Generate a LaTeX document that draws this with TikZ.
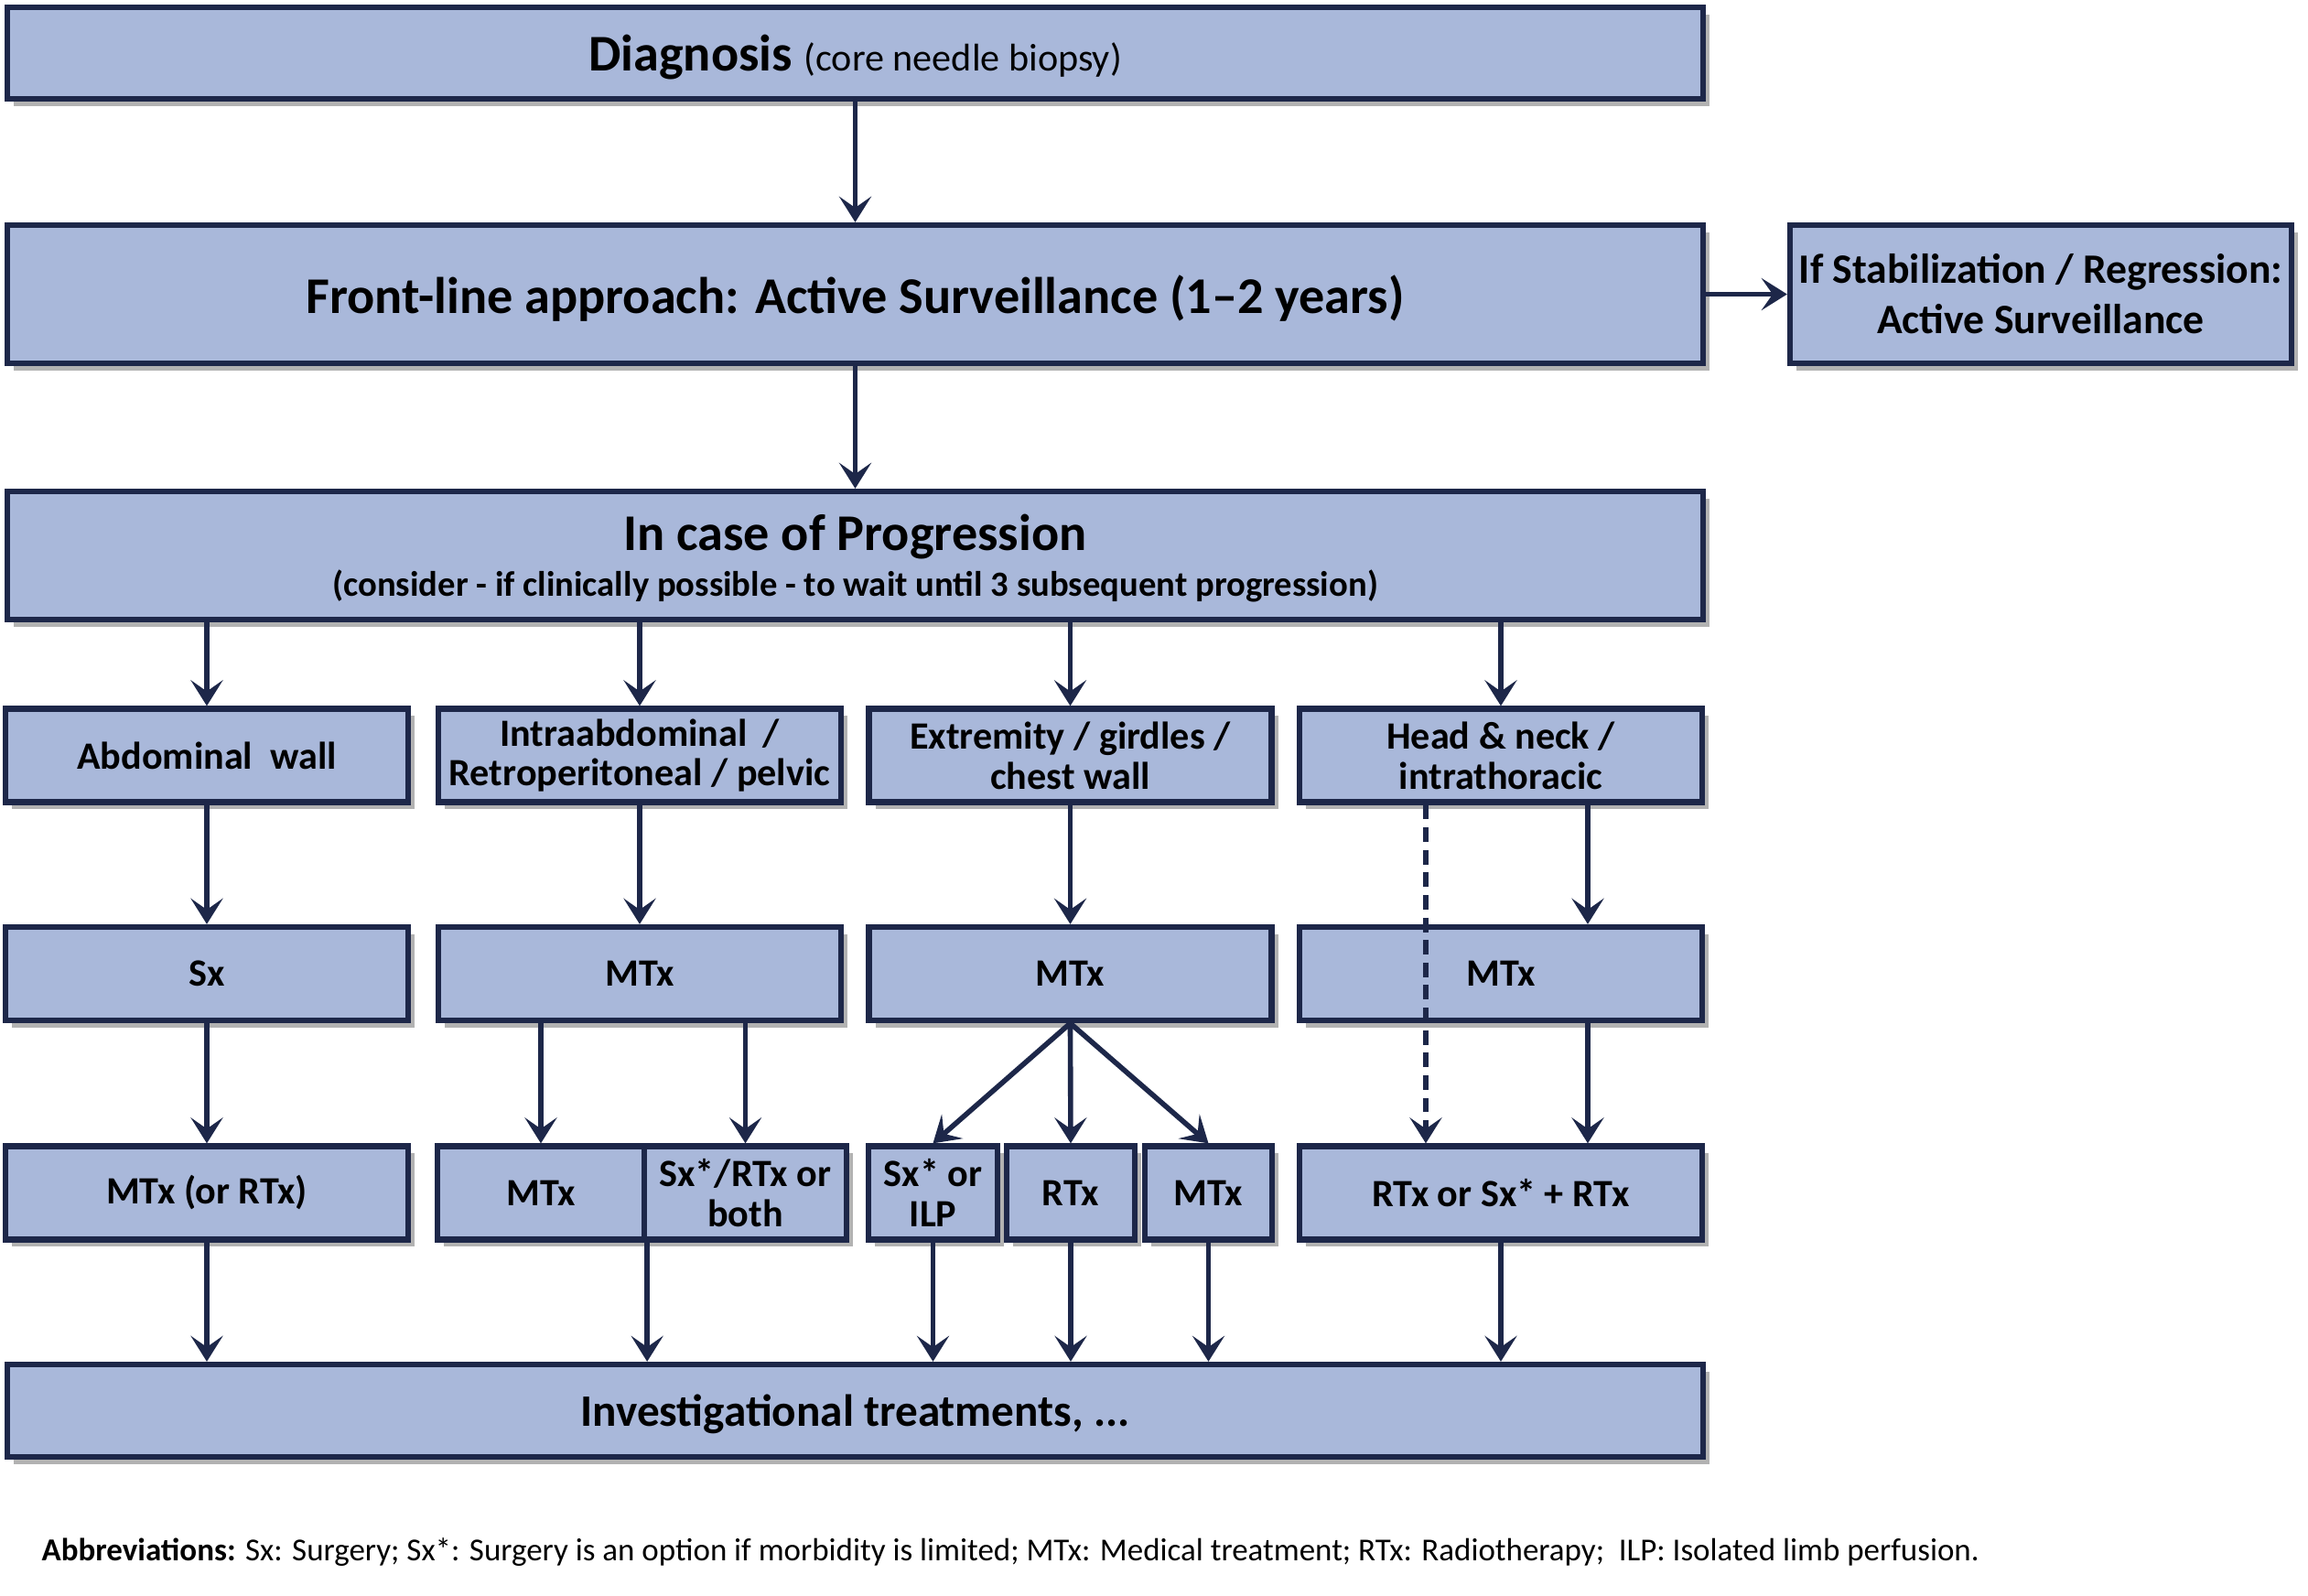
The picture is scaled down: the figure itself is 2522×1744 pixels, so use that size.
\documentclass[tikz,border=0pt]{standalone}
\usepackage{fontspec}
\setmainfont{Carlito}
\usetikzlibrary{arrows.meta,shadows}
\definecolor{boxfill}{HTML}{A9B8DA}
\definecolor{boxline}{HTML}{1D2749}
\tikzset{
  box/.style={draw=boxline, line width=1.8pt, fill=boxfill, inner sep=0pt, align=center,
    drop shadow={shadow xshift=2pt, shadow yshift=-2.2pt, opacity=0.3, fill=black},
    font=\fontsize{12}{12.5}\selectfont\bfseries},
  rowbox/.style={box, minimum width=44mm, minimum height=10.2mm},
  arr/.style={draw=boxline, line width=1.6pt, -{Stealth[length=8pt,width=10pt,inset=3.5pt]}},
  dsh/.style={arr, line width=1.8pt, dash pattern=on 4.5pt off 2.5pt},
}
\begin{document}
\begin{tikzpicture}[x=0.1mm,y=-0.1mm]
\useasboundingbox (0,0) rectangle (2522,1744);
% top boxes
\node[box, minimum width=185.3mm, minimum height=10mm, text depth=0pt, font=\fontsize{16}{18}\selectfont\bfseries] (diag) at (934.5,58)
  {Diagnosis {\fontsize{12}{14}\mdseries\selectfont (core needle biopsy)}};
\node[box, minimum width=185.3mm, minimum height=15.1mm, text depth=0pt, font=\fontsize{16}{18}\selectfont\bfseries] (front) at (934.5,321.5)
  {Front-line approach: Active Surveillance (1–2 years)};
\node[box, minimum width=54.8mm, minimum height=15.1mm, font=\fontsize{13}{15.6}\selectfont\bfseries] (stab) at (2230,321.5)
  {If Stabilization / Regression:\\Active Surveillance};
\node[box, minimum width=185.3mm, minimum height=14mm, text depth=0pt, font=\fontsize{11}{14.3}\selectfont\bfseries] (prog) at (934.5,607)
  {{\fontsize{16}{18}\selectfont In case of Progression}\\
   (consider - if clinically possible - to wait until 3 subsequent progression)};
% row 1
\node[rowbox] (a1) at (226,825.5) {Abdominal\hspace{0.45em}wall};
\node[rowbox] (b1) at (699,825.5) {Intraabdominal\hspace{0.4em}/\\Retroperitoneal / pelvic};
\node[rowbox] (c1) at (1169.5,825.5) {Extremity / girdles /\\chest wall};
\node[rowbox] (d1) at (1640,825.5) {Head \& neck /\\intrathoracic};
% row 2
\node[rowbox] (a2) at (226,1064) {Sx};
\node[rowbox] (b2) at (699,1064) {MTx};
\node[rowbox] (c2) at (1169.5,1064) {MTx};
\node[rowbox] (d2) at (1640,1064) {MTx};
% row 3
\node[rowbox] (a3) at (226,1303.5) {MTx (or RTx)};
\node[box, minimum width=22.6mm, minimum height=10.2mm] (b3l) at (591,1303.5) {MTx};
\node[box, minimum width=22.1mm, minimum height=10.2mm] (b3r) at (814.5,1303.5) {Sx*/RTx or\\both};
\node[box, minimum width=14.1mm, minimum height=10.2mm] (c3a) at (1019.5,1303.5) {Sx* or\\ILP};
\node[box, minimum width=14mm, minimum height=10.2mm] (c3b) at (1170,1303.5) {RTx};
\node[box, minimum width=13.9mm, minimum height=10.2mm] (c3c) at (1320.5,1303.5) {MTx};
\node[rowbox] (d3) at (1640,1303.5) {RTx or Sx* + RTx};
% bottom
\node[box, minimum width=185.3mm, minimum height=10.1mm, text depth=0pt, font=\fontsize{14}{16}\selectfont\bfseries] (inv) at (934.5,1541.5)
  {Investigational treatments, ...};
\node[anchor=west, inner sep=0pt, font=\fontsize{9.95}{11}\selectfont] (abbr) at (45,1696)
  {\textbf{Abbreviations:} Sx: Surgery; Sx*: Surgery is an option if morbidity is limited; MTx: Medical treatment; RTx: Radiotherapy;\ \ ILP: Isolated limb perfusion.};
% connectors
\draw[arr] (diag) -- (front);
\draw[arr] (front) -- (stab);
\draw[arr] (front) -- (prog);
\foreach \n in {a1,b1,c1,d1} \draw[arr] (prog.south -| \n.north) -- (\n.north);
\draw[arr] (a1) -- (a2);
\draw[arr] (b1) -- (b2);
\draw[arr] (c1) -- (c2);
\draw[arr] ([xshift=9.5mm]d1.south) -- ([xshift=9.5mm]d2.north);
\draw[arr] (a2) -- (a3);
\draw[arr] (b2.south -| b3l.north) -- (b3l.north);
\draw[arr] (b2.south -| b3r.north) -- (b3r.north);
\draw[arr] (c2.south) -- (c3a.north);
\draw[arr] (c2.south) -- (c3b.north);
\draw[arr] (c2.south) -- (c3c.north);
\draw[arr] ([xshift=9.5mm]d2.south) -- ([xshift=9.5mm]d3.north);
\draw[dsh] ([xshift=-8.2mm]d1.south) -- ([xshift=-8.2mm]d3.north);
\draw[arr] (a3.south) -- (a3.south |- inv.north);
\draw[arr] (b3l.south east) -- (b3l.south east |- inv.north);
\foreach \n in {c3a,c3b,c3c,d3} \draw[arr] (\n.south) -- (\n.south |- inv.north);
\end{tikzpicture}
\end{document}
